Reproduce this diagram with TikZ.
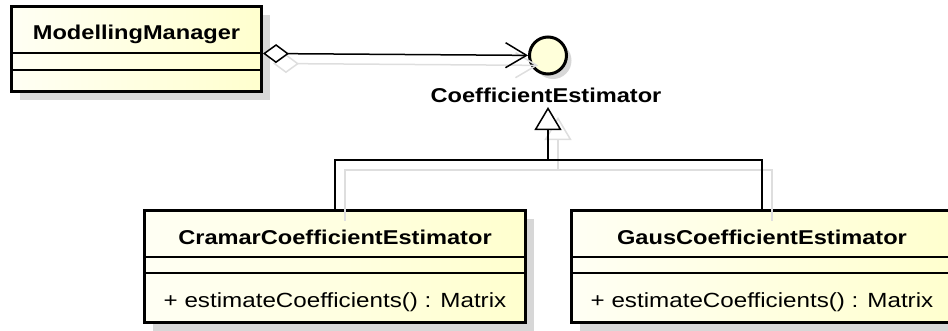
\documentclass[tikz,border=0pt]{standalone}
\usepackage{fontspec}
\setmainfont{Liberation Sans}[FakeStretch=1.18]
\usetikzlibrary{arrows.meta,shadows,calc}

\definecolor{classfillL}{RGB}{255,255,244}
\definecolor{classfillR}{RGB}{255,255,206}
\definecolor{ifacefill}{RGB}{255,255,218}
\definecolor{shadowgray}{RGB}{215,215,215}
\definecolor{ghost}{RGB}{222,222,222}

\begin{document}
\begin{tikzpicture}[x=1pt,y=-1pt,
  classbox/.style={rectangle, draw=black, line width=3pt, anchor=north west,
    inner sep=0pt, outer sep=0pt, left color=classfillL, right color=classfillR,
    drop shadow={shadow xshift=8pt, shadow yshift=-8pt, fill=shadowgray, opacity=1}},
  iface/.style={circle, draw=black, line width=3pt, inner sep=0pt,
    minimum size=37pt, fill=ifacefill,
    drop shadow={shadow xshift=5pt, shadow yshift=-5pt, fill=shadowgray, opacity=1}},
  titletext/.style={font=\bfseries\fontsize{20}{24}\selectfont, anchor=base, inner sep=0pt},
  membertext/.style={font=\fontsize{20.5}{24}\selectfont, anchor=base, inner sep=0pt},
  sepline/.style={line width=1.5pt},
  assoc/.style={line width=1.5pt,
    {Diamond[open, fill=white, length=26pt, width=19pt]}-{Straight Barb[length=21pt, width=25pt]}},
  genline/.style={line width=1.5pt},
  gentip/.style={-{Triangle[open, fill=white, length=23pt, width=27pt]}},
]
\useasboundingbox (0,0) rectangle (948,330);
\clip (0,0) rectangle (948,330);

% ModellingManager class
\node[classbox, minimum width=250pt, minimum height=85pt] (mm) at (11.5,6.5) {};
\node[titletext] (mmname) at ($(mm.north)+(0,32.5)$) {ModellingManager};
\draw[sepline] ($(mm.north west)+(0,46.5)$) -- ($(mm.north east)+(0,46.5)$);
\draw[sepline] ($(mm.north west)+(0,63.5)$) -- ($(mm.north east)+(0,63.5)$);

% CoefficientEstimator interface
\node[iface] (ce) at (548,55.5) {};
\node[titletext] (cename) at (546,102) {CoefficientEstimator};

% CramarCoefficientEstimator class
\node[classbox, minimum width=381pt, minimum height=112pt] (crm) at (144.5,210.5) {};
\node[titletext] (crmname) at ($(crm.north)+(0,33.5)$) {CramarCoefficientEstimator};
\draw[sepline] ($(crm.north west)+(0,46.5)$) -- ($(crm.north east)+(0,46.5)$);
\draw[sepline] ($(crm.north west)+(0,62.5)$) -- ($(crm.north east)+(0,62.5)$);
\node[membertext] (crmop) at ($(crm.north)+(0,96.5)$) {+ estimateCoefficients() : Matrix};

% GausCoefficientEstimator class
\node[classbox, minimum width=381pt, minimum height=112pt] (gs) at (571.5,210.5) {};
\node[titletext] (gsname) at ($(gs.north)+(0,33.5)$) {GausCoefficientEstimator};
\draw[sepline] ($(gs.north west)+(0,46.5)$) -- ($(gs.north east)+(0,46.5)$);
\draw[sepline] ($(gs.north west)+(0,62.5)$) -- ($(gs.north east)+(0,62.5)$);
\node[membertext] (gsop) at ($(gs.north)+(0,96.5)$) {+ estimateCoefficients() : Matrix};

% connector end points
\coordinate (mmagg) at ($(mm.north east)+(1.5,47)$);
\coordinate (jn) at (548,160);
\coordinate (cetip) at (548,107);

% faint connector shadows
\begin{scope}[transform canvas={xshift=10pt, yshift=-10pt}, draw=ghost, color=ghost]
  \draw[assoc] (mmagg) -- (ce);
  \draw[genline] (crm.north) |- (jn) -| (gs.north);
  \draw[genline, gentip] (jn) -- (cetip);
\end{scope}

% aggregation: ModellingManager uses CoefficientEstimator
\draw[assoc] (mmagg) -- (ce);

% realisations of CoefficientEstimator
\draw[genline] (crm.north) |- (jn) -| (gs.north);
\draw[genline, gentip] (jn) -- (cetip);
\end{tikzpicture}
\end{document}
